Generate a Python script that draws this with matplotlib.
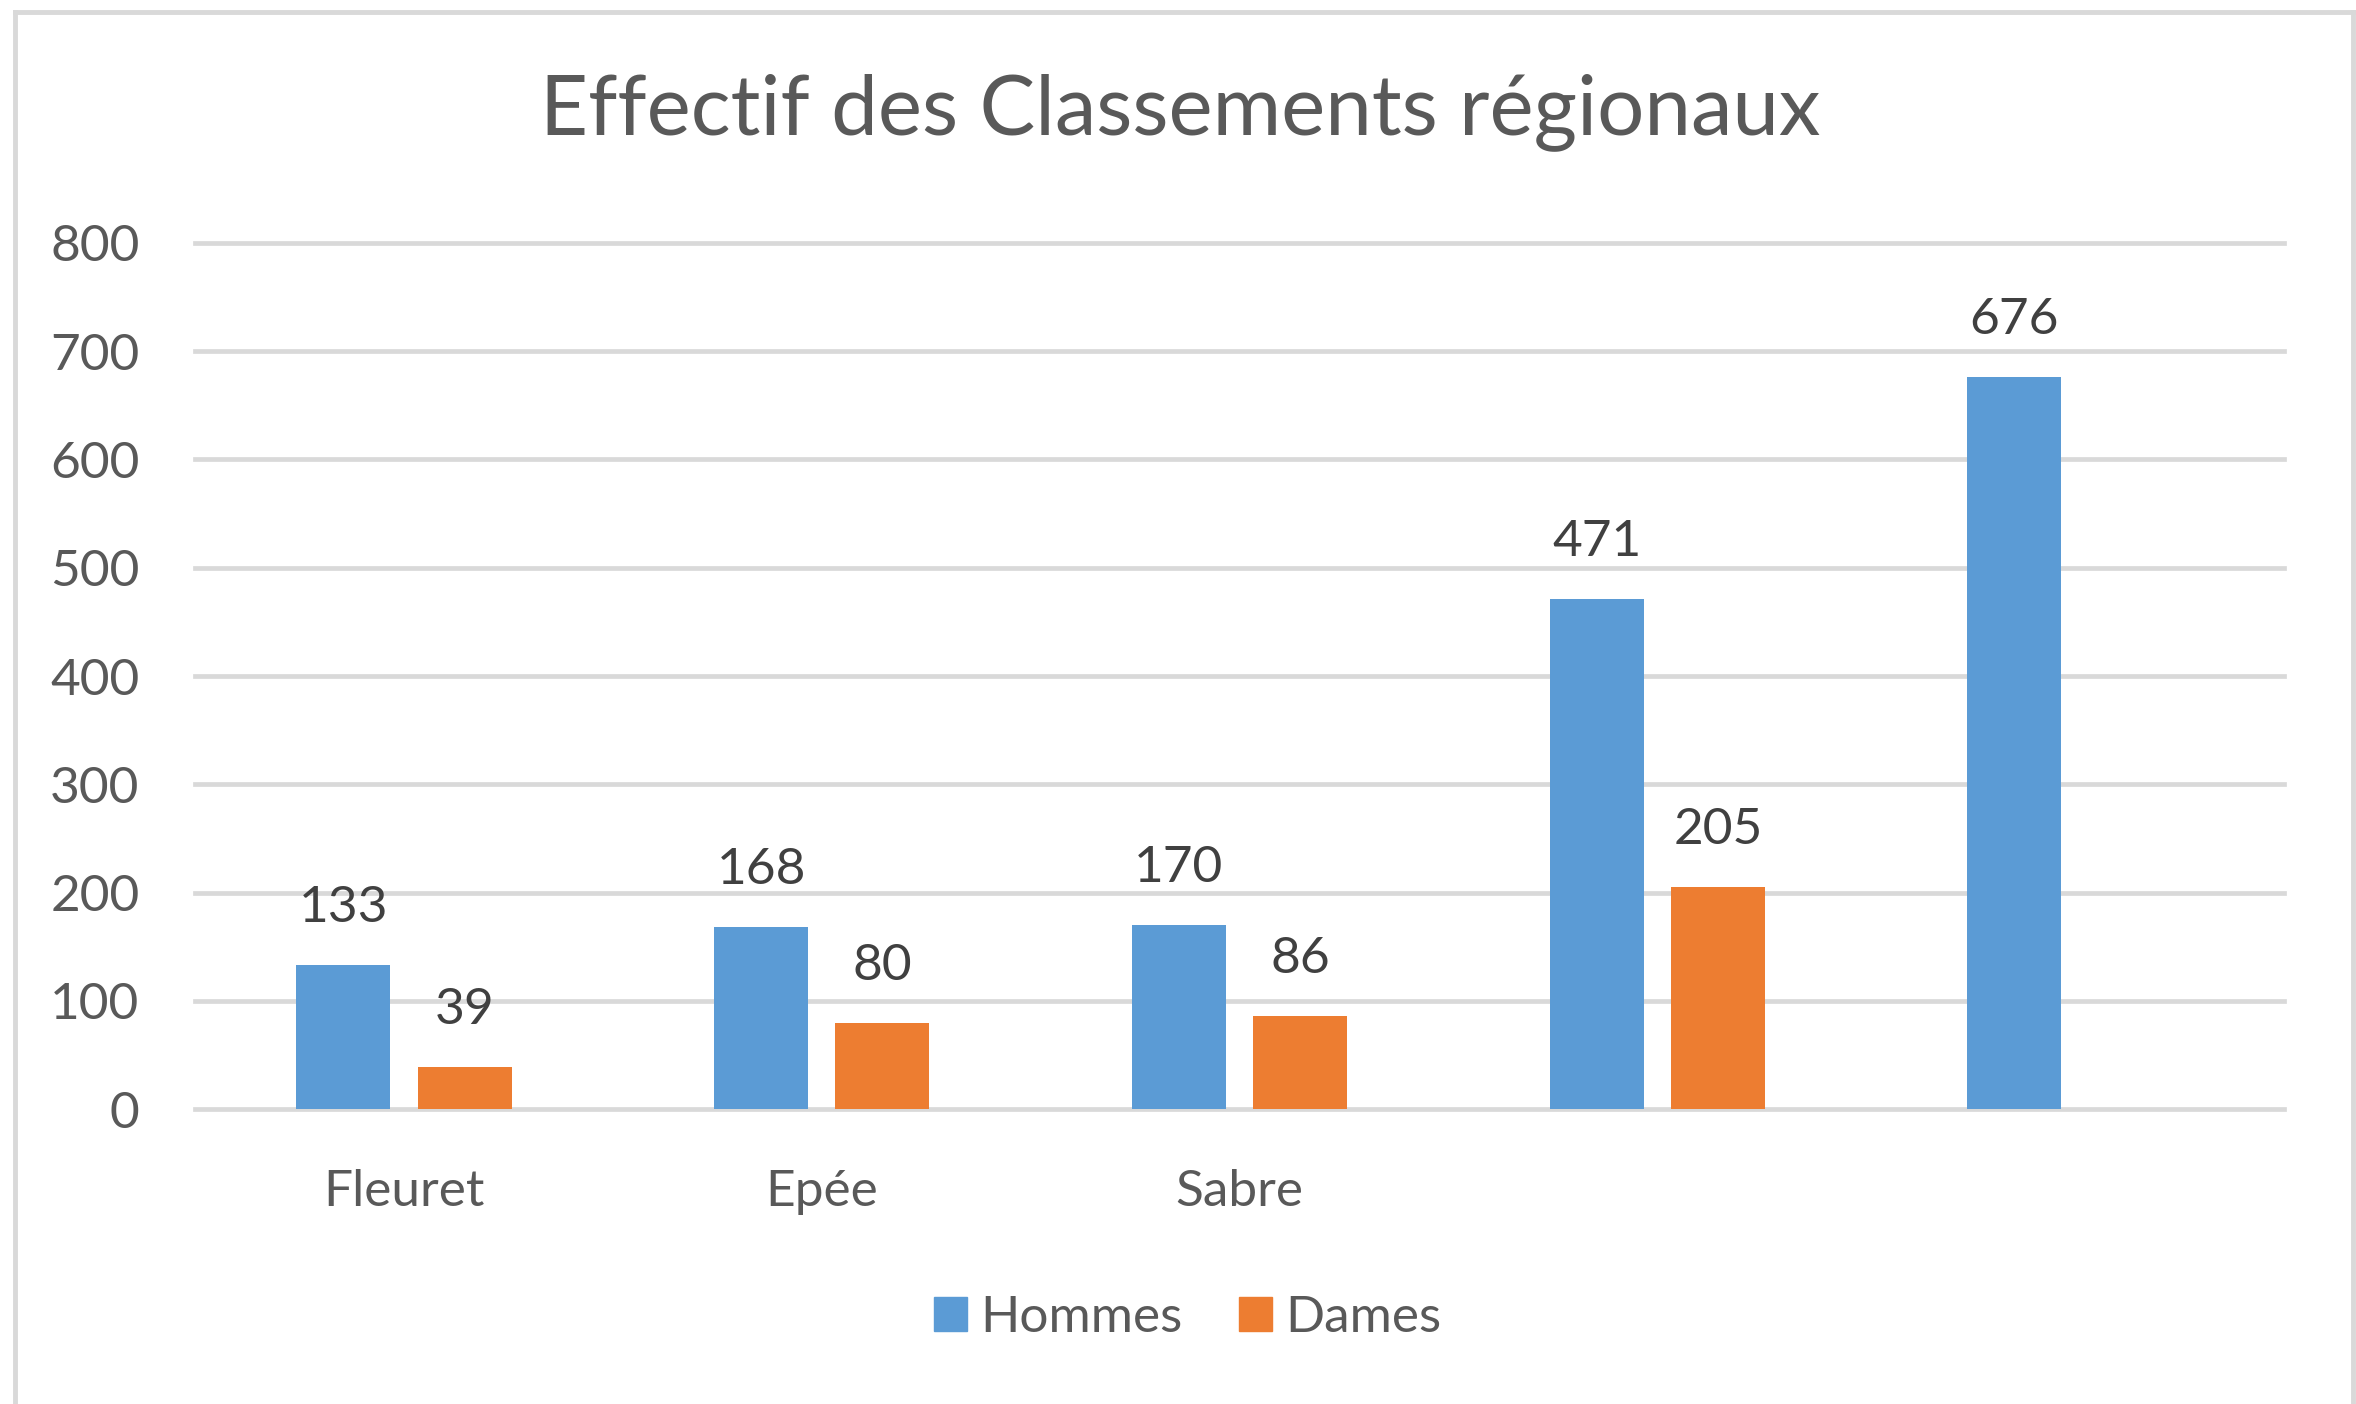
import numpy as np
import matplotlib.pyplot as plt
from matplotlib.patches import Patch
from matplotlib.lines import Line2D

plt.rcParams['font.family'] = ['Lato', 'DejaVu Sans']

# Données (les deux dernières catégories n'ont pas de libellé)
categories = ['Fleuret', 'Epée', 'Sabre', '', '']
hommes = [133, 168, 170, 471, 676]
dames = [39, 80, 86, 205, np.nan]

bleu = '#5B9BD5'
orange = '#ED7D31'
gris_txt = '#595959'
gris_lab = '#404040'
gris_grille = '#D9D9D9'

fig = plt.figure(figsize=(23.56, 14.04), dpi=100)
ax = fig.add_axes([0.0828, 0.210, 0.8866, 0.617])

x = np.arange(len(categories))
larg = 0.225
dx = 0.145

ax.bar(x - dx, hommes, width=larg, color=bleu, zorder=2)
ax.bar(x + dx, dames, width=larg, color=orange, zorder=2)

# etiquettes de valeurs
for xi, v in zip(x - dx, hommes):
    if not np.isnan(v):
        ax.annotate(f'{int(v)}', (xi, v), xytext=(0, 41), textcoords='offset points',
                    ha='center', va='center', fontsize=37, color=gris_lab)
for xi, v in zip(x + dx, dames):
    if not np.isnan(v):
        ax.annotate(f'{int(v)}', (xi, v), xytext=(0, 41), textcoords='offset points',
                    ha='center', va='center', fontsize=37, color=gris_lab)

ax.set_xlim(-0.5, len(categories) - 0.5)
ax.set_ylim(0, 800)
yt = np.arange(0, 801, 100)
ax.set_yticks(yt)
for y in yt:
    ax.axhline(y, color=gris_grille, lw=3.4, zorder=0, clip_on=False)

ax.set_xticks(x)
ax.set_xticklabels(categories)
ax.tick_params(axis='both', length=0, labelsize=37, labelcolor=gris_txt)
ax.tick_params(axis='y', pad=40)
ax.tick_params(axis='x', pad=43)
for s in ax.spines.values():
    s.set_visible(False)

fig.text(0.501, 0.920, 'Effectif des Classements régionaux', ha='center', va='center',
         fontsize=60, color=gris_txt)

handles = [Patch(color=bleu), Patch(color=orange)]
fig.legend(handles, ['Hommes', 'Dames'], loc='center', bbox_to_anchor=(0.504, 0.061),
           ncol=2, frameon=False, fontsize=37, labelcolor=gris_txt,
           handlelength=0.65, handleheight=0.65, handletextpad=0.25, columnspacing=1.1)

# cadre gris du graphique (pas de bord en bas)
bord = dict(color=gris_grille, lw=3.5, transform=fig.transFigure)
fig.add_artist(Line2D([15 / 2356, 15 / 2356], [0, 1 - 12 / 1404], **bord))
fig.add_artist(Line2D([15 / 2356, 2353 / 2356], [1 - 12 / 1404, 1 - 12 / 1404], **bord))
fig.add_artist(Line2D([2353 / 2356, 2353 / 2356], [0, 1 - 12 / 1404], **bord))

fig.savefig('out.png', dpi=100, facecolor='white')
